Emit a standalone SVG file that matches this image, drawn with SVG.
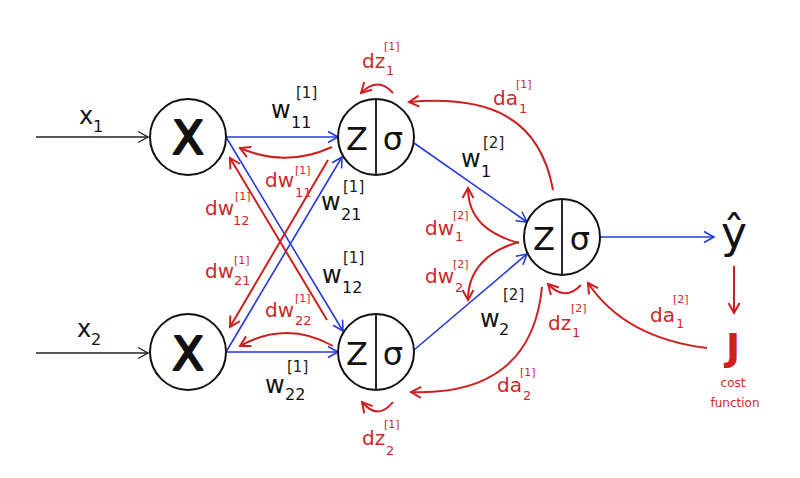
<svg xmlns="http://www.w3.org/2000/svg" width="800" height="478" viewBox="0 0 800 478">
<defs>
<marker id="aBlue" markerUnits="userSpaceOnUse" markerWidth="14" markerHeight="14" viewBox="0 0 14 14" refX="12" refY="7" orient="auto"><path d="M2,1.5 L12,7 L2,12.5" fill="none" stroke="#2438e0" stroke-width="1.6"/></marker>
<marker id="aRed" markerUnits="userSpaceOnUse" markerWidth="14" markerHeight="14" viewBox="0 0 14 14" refX="12" refY="7" orient="auto"><path d="M2,1.5 L12,7 L2,12.5" fill="none" stroke="#cc1f1f" stroke-width="2"/></marker>
<marker id="aBlack" markerUnits="userSpaceOnUse" markerWidth="14" markerHeight="14" viewBox="0 0 14 14" refX="12" refY="7" orient="auto"><path d="M2,1.5 L12,7 L2,12.5" fill="none" stroke="#222" stroke-width="1.4"/></marker>
</defs>
<style>
text{font-family:"DejaVu Sans","Liberation Sans",sans-serif}
.node{fill:#fff;stroke:#111;stroke-width:2}
.div{stroke:#111;stroke-width:1.8}
.zs{font-size:32px;fill:#111;text-anchor:middle}
.bx{font-size:46px;fill:#111;stroke:#111;stroke-width:2.2;stroke-linejoin:round;text-anchor:middle}
.blue{fill:none;stroke:#2438e0;stroke-width:1.6;marker-end:url(#aBlue)}
.red{fill:none;stroke:#cc1f1f;stroke-width:2;marker-end:url(#aRed)}
.blk{fill:none;stroke:#222;stroke-width:1.4;marker-end:url(#aBlack)}
.w{font-size:24px;fill:#111}
.ws{font-size:16px;fill:#111}
.wp{font-size:15px;fill:#222}
.r{font-size:20px;fill:#cc2a2a}
.rs{font-size:13px;fill:#cc2a2a}
.rp{font-size:11px;fill:#cc2a2a}
</style>
<g id="connectors">
<path class="blk" d="M36,137 L148,137"/>
<path class="blk" d="M36,353 L148,353"/>
<path class="blue" d="M226,137 L338,137"/>
<path class="blue" d="M226,137 L343,331"/>
<path class="blue" d="M226,352 L342,157"/>
<path class="blue" d="M226,352 L338,352"/>
<path class="blue" d="M414,143 L527,222"/>
<path class="blue" d="M414,350 L527,254"/>
<path class="blue" d="M600,237 L714,237"/>
<path class="red" d="M332,147 Q286,168 240,148"/>
<path class="red" d="M328,160 L230,327"/>
<path class="red" d="M327,320 L230,158"/>
<path class="red" d="M333,346 Q287,320 240,346"/>
<path class="red" d="M393,93 Q378,76 361,93"/>
<path class="red" d="M393,402 Q378,421 362,402"/>
<path class="red" d="M553,190 C540,118 490,95 409,102"/>
<path class="red" d="M542,287 C535,360 490,395 411,392"/>
<path class="red" d="M519,243 C490,235 468,220 468,188"/>
<path class="red" d="M519,242 C490,250 468,268 468,300"/>
<path class="red" d="M581,285 Q565,302 548,284"/>
<path class="red" d="M707,348 Q625,338 588,283"/>
<path class="red" d="M734,266 L734,313"/>
</g>
<g id="in1"><circle class="node" cx="188" cy="137" r="38"/><text class="bx" x="188" y="154">X</text></g>
<g id="in2"><circle class="node" cx="188" cy="352" r="38"/><text class="bx" x="188" y="370">X</text></g>
<g id="h1"><circle class="node" cx="376" cy="137" r="38"/><line class="div" x1="376" y1="99" x2="376" y2="175"/><text class="zs" x="357" y="150">Z</text><text class="zs" x="393" y="150">σ</text></g>
<g id="h2"><circle class="node" cx="376" cy="352" r="38"/><line class="div" x1="376" y1="314" x2="376" y2="390"/><text class="zs" x="357" y="365">Z</text><text class="zs" x="393" y="365">σ</text></g>
<g id="out"><circle class="node" cx="562" cy="237" r="38"/><line class="div" x1="562" y1="199" x2="562" y2="275"/><text class="zs" x="544" y="250">Z</text><text class="zs" x="580" y="250">σ</text></g>
<g id="yhat"><text x="734" y="248" style="font-size:44px;fill:#111;text-anchor:middle">ŷ</text></g>
<g id="cost"><text x="733" y="360" style="font-size:38px;font-weight:bold;fill:#cc1f1f;text-anchor:middle">J</text><text x="733" y="387" style="font-size:12px;fill:#cc2a2a;text-anchor:middle">cost</text><text x="735" y="407" style="font-size:12px;fill:#cc2a2a;text-anchor:middle">function</text></g>
<g id="labels">
<text class="w" x="79" y="124">x</text><text class="ws" x="93" y="132">1</text>
<text class="w" x="77" y="337">x</text><text class="ws" x="91" y="345">2</text>
<text class="w" x="271" y="118">w</text><text class="ws" x="291" y="128">11</text><text class="wp" x="296" y="98">[1]</text>
<text class="w" x="321" y="210">w</text><text class="ws" x="341" y="220">21</text><text class="wp" x="343" y="192">[1]</text>
<text class="w" x="322" y="283">w</text><text class="ws" x="342" y="293">12</text><text class="wp" x="343" y="263">[1]</text>
<text class="w" x="265" y="393">w</text><text class="ws" x="285" y="400">22</text><text class="wp" x="287" y="372">[1]</text>
<text class="w" x="461" y="167">w</text><text class="ws" x="481" y="177">1</text><text class="wp" x="483" y="148">[2]</text>
<text class="w" x="480" y="327">w</text><text class="ws" x="499" y="335">2</text><text class="wp" x="503" y="300">[2]</text>
<text class="r" x="362" y="68">dz</text><text class="rs" x="386" y="75">1</text><text class="rp" x="384" y="50">[1]</text>
<text class="r" x="362" y="445">dz</text><text class="rs" x="386" y="455">2</text><text class="rp" x="384" y="428">[1]</text>
<text class="r" x="265" y="187">dw</text><text class="rs" x="295" y="197">11</text><text class="rp" x="295" y="174">[1]</text>
<text class="r" x="205" y="215">dw</text><text class="rs" x="233" y="225">12</text><text class="rp" x="235" y="200">[1]</text>
<text class="r" x="205" y="278">dw</text><text class="rs" x="234" y="285">21</text><text class="rp" x="234" y="264">[1]</text>
<text class="r" x="265" y="317">dw</text><text class="rs" x="295" y="325">22</text><text class="rp" x="295" y="302">[1]</text>
<text class="r" x="493" y="105">da</text><text class="rs" x="519" y="113">1</text><text class="rp" x="516" y="88">[1]</text>
<text class="r" x="425" y="235">dw</text><text class="rs" x="455" y="241">1</text><text class="rp" x="453" y="219">[2]</text>
<text class="r" x="425" y="283">dw</text><text class="rs" x="455" y="292">2</text><text class="rp" x="453" y="268">[2]</text>
<text class="r" x="548" y="330">dz</text><text class="rs" x="572" y="337">1</text><text class="rp" x="571" y="312">[2]</text>
<text class="r" x="497" y="392">da</text><text class="rs" x="523" y="400">2</text><text class="rp" x="520" y="376">[1]</text>
<text class="r" x="650" y="322">da</text><text class="rs" x="676" y="328">1</text><text class="rp" x="673" y="303">[2]</text>
</g>
</svg>
